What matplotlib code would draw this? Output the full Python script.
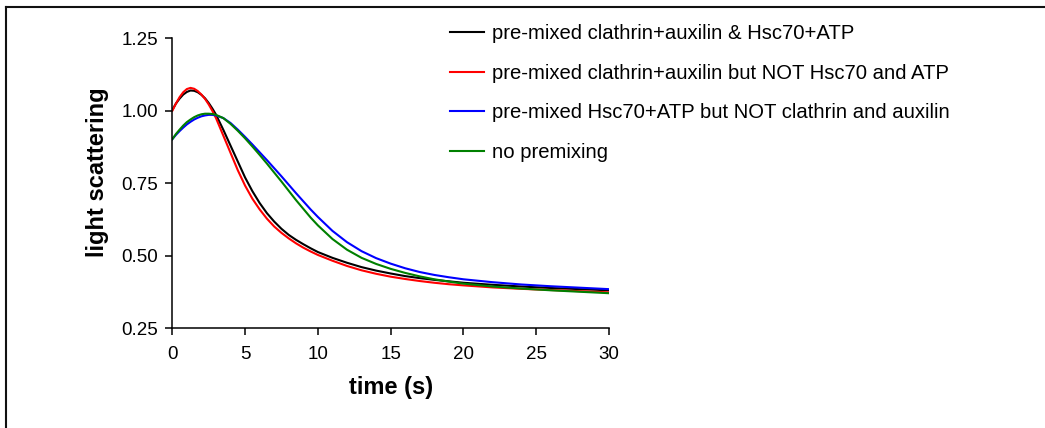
import matplotlib
matplotlib.use("Agg")
import matplotlib.pyplot as plt
from matplotlib.lines import Line2D
from matplotlib.ticker import StrMethodFormatter

plt.rcParams['font.family'] = ['Liberation Sans', 'DejaVu Sans']

# time points (s)
tempo = [0, 0.25, 0.5, 0.75, 1, 1.25, 1.5, 1.75, 2, 2.25, 2.5, 2.75, 3, 3.5, 4, 4.5,
         5, 5.5, 6, 6.5, 7, 7.5, 8, 8.5, 9, 9.5, 10, 11, 12, 13, 14, 15, 16, 17, 18,
         19, 20, 22, 24, 26, 28, 30]

preto = [1.003, 1.025, 1.042, 1.056, 1.065, 1.07, 1.069, 1.064, 1.055, 1.043, 1.027,
         1.008, 0.987, 0.935, 0.88, 0.825, 0.77, 0.723, 0.682, 0.647, 0.618, 0.593,
         0.572, 0.555, 0.54, 0.526, 0.513, 0.493, 0.476, 0.461, 0.449, 0.439, 0.43,
         0.423, 0.417, 0.412, 0.407, 0.4, 0.394, 0.389, 0.385, 0.381]
vermelho = [1.0, 1.025, 1.047, 1.064, 1.075, 1.079, 1.076, 1.068, 1.056, 1.041, 1.022,
            1.0, 0.975, 0.915, 0.855, 0.795, 0.742, 0.697, 0.66, 0.628, 0.601, 0.579,
            0.56, 0.543, 0.528, 0.515, 0.503, 0.483, 0.465, 0.45, 0.438, 0.428, 0.42,
            0.413, 0.407, 0.402, 0.398, 0.391, 0.386, 0.382, 0.378, 0.374]
azul = [0.902, 0.917, 0.93, 0.942, 0.953, 0.962, 0.97, 0.976, 0.981, 0.984, 0.986,
        0.986, 0.984, 0.975, 0.958, 0.935, 0.91, 0.884, 0.857, 0.83, 0.802, 0.774,
        0.745, 0.716, 0.688, 0.66, 0.634, 0.586, 0.547, 0.516, 0.492, 0.473, 0.457,
        0.444, 0.434, 0.426, 0.419, 0.409, 0.401, 0.395, 0.39, 0.385]
verde = [0.902, 0.92, 0.935, 0.949, 0.961, 0.97, 0.978, 0.984, 0.988, 0.99, 0.99,
         0.989, 0.986, 0.975, 0.955, 0.931, 0.905, 0.877, 0.848, 0.818, 0.787, 0.756,
         0.724, 0.692, 0.662, 0.632, 0.605, 0.558, 0.521, 0.493, 0.472, 0.455, 0.441,
         0.429, 0.419, 0.411, 0.404, 0.394, 0.387, 0.381, 0.376, 0.371]

rotulos = ['pre-mixed clathrin+auxilin & Hsc70+ATP',
           'pre-mixed clathrin+auxilin but NOT Hsc70 and ATP',
           'pre-mixed Hsc70+ATP but NOT clathrin and auxilin',
           'no premixing']
cores = ['black', '#ff0000', '#0000ff', '#008000']
x_ticks = [0, 5, 10, 15, 20, 25, 30]
y_ticks = [0.25, 0.50, 0.75, 1.00, 1.25]

W, H = 1045, 428
fig = plt.figure(figsize=(W / 100, H / 100), dpi=100)
ax = fig.add_axes([172.3 / W, 1 - 328.3 / H, 436.7 / W, 290 / H])

for serie, cor, rot in zip([preto, vermelho, azul, verde], cores, rotulos):
    ax.plot(tempo, serie, color=cor, lw=1.5, label=rot)

ax.set_xlim(0, 30)
ax.set_ylim(0.25, 1.25)
ax.set_xticks(x_ticks)
ax.set_yticks(y_ticks)
ax.yaxis.set_major_formatter(StrMethodFormatter('{x:.2f}'))
for s in ['top', 'right']:
    ax.spines[s].set_visible(False)
for s in ['left', 'bottom']:
    ax.spines[s].set_linewidth(1.1)
ax.tick_params(axis='both', direction='out', length=5, width=1.1, labelsize=13.5)
ax.tick_params(axis='x', pad=8)
ax.tick_params(axis='y', pad=5)

ax.set_xlabel('time (s)', fontsize=17, fontweight='bold')
ax.set_ylabel('light scattering', fontsize=17, fontweight='bold')
ax.xaxis.set_label_coords(0.5, -0.165)
ax.yaxis.set_label_coords(-0.146, 0.539)

ax.legend(loc='upper left', bbox_to_anchor=(450 / W, 1 - 24 / H),
          bbox_transform=fig.transFigure, frameon=False, fontsize=14.6,
          handlelength=1.7, handletextpad=0.35, labelspacing=1.02,
          borderpad=0, borderaxespad=0)

# moldura externa (so topo e esquerda aparecem)
fig.add_artist(Line2D([6 / W, 1], [1 - 7 / H, 1 - 7 / H], transform=fig.transFigure,
                      color='#111111', lw=1.5))
fig.add_artist(Line2D([6 / W, 6 / W], [0, 1 - 7 / H], transform=fig.transFigure,
                      color='#111111', lw=1.5))

fig.savefig('out.png', dpi=100)
